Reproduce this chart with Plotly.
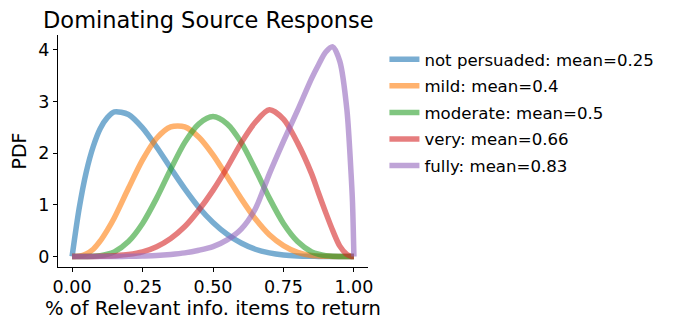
import plotly.graph_objs as go

# x positions (fraction of relevant info items)
x_vals = [0, 0.025, 0.05, 0.075, 0.1, 0.125, 0.15, 0.2, 0.25, 0.3, 0.35, 0.4, 0.45, 0.5,
          0.55, 0.6, 0.65, 0.7, 0.75, 0.8, 0.85, 0.875, 0.9, 0.925, 0.95, 0.975, 0.99, 0.995, 1.0]

not_persuaded = [0, 0.93, 1.63, 2.13, 2.48, 2.69, 2.80, 2.75, 2.49, 2.12, 1.71, 1.31, 0.95, 0.66,
                 0.43, 0.26, 0.14, 0.07, 0.03, 0.01, 0.003, 0.001, 0, 0, 0, 0, 0, 0, 0]
mild = [0, 0.007, 0.05, 0.14, 0.30, 0.51, 0.75, 1.32, 1.87, 2.29, 2.51, 2.51, 2.31, 1.97,
        1.55, 1.12, 0.73, 0.42, 0.21, 0.08, 0.02, 0.01, 0.004, 0.001, 0, 0, 0, 0, 0]
moderate = [0, 0, 0.001, 0.004, 0.016, 0.043, 0.09, 0.29, 0.64, 1.13, 1.69, 2.21, 2.57, 2.71,
            2.57, 2.21, 1.69, 1.13, 0.64, 0.29, 0.09, 0.043, 0.016, 0.004, 0.001, 0, 0, 0, 0]
very = [0, 0, 0, 0, 0.003, 0.007, 0.015, 0.04, 0.09, 0.19, 0.35, 0.58, 0.9, 1.28,
        1.72, 2.2, 2.6, 2.84, 2.66, 2.2, 1.6, 1.22, 0.85, 0.5, 0.2, 0.04, 0.003, 0, 0]
fully = [0, 0, 0, 0, 0, 0, 0, 0.003, 0.01, 0.02, 0.04, 0.07, 0.12, 0.19,
         0.32, 0.53, 0.92, 1.6, 2.23, 2.83, 3.45, 3.72, 3.96, 4.06, 3.78, 2.85, 1.6, 1.05, 0]

series_names = ["not persuaded: mean=0.25", "mild: mean=0.4", "moderate: mean=0.5",
                "very: mean=0.66", "fully: mean=0.83"]
series_vals = [not_persuaded, mild, moderate, very, fully]
colors = ["#1f77b4", "#ff7f0e", "#2ca02c", "#d62728", "#9467bd"]

x_ticks = [0, 0.25, 0.5, 0.75, 1.0]
x_ticktext = ["0.00", "0.25", "0.50", "0.75", "1.00"]
y_ticks = [0, 1, 2, 3, 4]

font_name = "DejaVu Sans"

traces = []
for i in range(len(series_vals)):
    trace = go.Scatter(x=x_vals, y=series_vals[i], mode='lines', name=series_names[i],
                       legendgroup=str(i), opacity=0.6,
                       line=dict(color=colors[i], width=5.5, shape='spline', smoothing=0.8))
    traces.append(trace)

# the page body has an 8px margin, so the figure is 8px smaller than the window
layout = go.Layout(
    width=666, height=322,
    margin=dict(l=50, r=306, t=27, b=63),
    paper_bgcolor='white', plot_bgcolor='white',
    font=dict(family=font_name, color='black', size=17.5),
    title=dict(text='Dominating Source Response', x=0.485, xref='paper', xanchor='center',
               y=1 - 12 / 322, yref='container', yanchor='middle',
               font=dict(size=22.5, family=font_name, color='black')),
    xaxis=dict(title=dict(text='% of Relevant info. items to return', standoff=4,
                          font=dict(size=19.5)),
               range=[-0.05, 1.05], tickvals=x_ticks, ticktext=x_ticktext, automargin=False,
               showline=True, linecolor='black', linewidth=1, showgrid=False, zeroline=False,
               ticks='outside', ticklen=4, tickwidth=1, tickcolor='black'),
    yaxis=dict(title=dict(text='PDF', standoff=6, font=dict(size=19)),
               range=[-0.204, 4.29], tickvals=y_ticks, automargin=False,
               showline=True, linecolor='black', linewidth=1, showgrid=False, zeroline=False,
               ticks='outside', ticklen=4, tickwidth=1, tickcolor='black'),
    legend=dict(x=1.053, y=0.97, xanchor='left', yanchor='top', font=dict(size=16.6),
                tracegroupgap=2, bgcolor='rgba(0,0,0,0)'),
    showlegend=True
)

fig = go.Figure(data=traces, layout=layout)
fig.write_html("out.html")
